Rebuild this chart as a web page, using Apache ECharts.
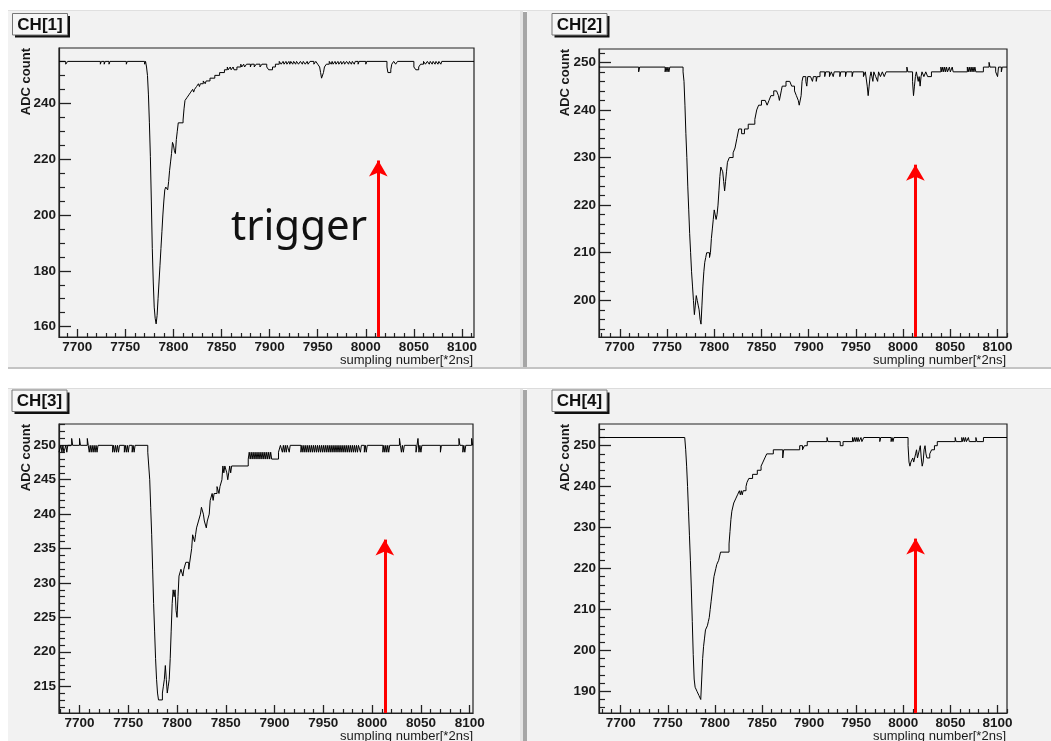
<!DOCTYPE html>
<html><head><meta charset="utf-8">
<script src="https://cdn.jsdelivr.net/npm/echarts@6/dist/echarts.min.js"></script>
<style>html,body{margin:0;padding:0;background:#fff}#c{width:1051px;height:741px}</style>
</head><body><div id="c"></div><script>
// ---------- data ----------
const channelNames = ['CH[1]', 'CH[2]', 'CH[3]', 'CH[4]'];
const xAxisTitle = 'sumpling number[*2ns]';
const yAxisTitle = 'ADC count';
const triggerLabel = 'trigger';
const xTickLabels = [7700, 7750, 7800, 7850, 7900, 7950, 8000, 8050, 8100];
const yTickLabels1 = [160, 180, 200, 220, 240];
const yTickLabels2 = [200, 210, 220, 230, 240, 250];
const yTickLabels3 = [215, 220, 225, 230, 235, 240, 245, 250];
const yTickLabels4 = [190, 200, 210, 220, 230, 240, 250];
const xRange1 = [7681, 8112.5], yRange1 = [156.3, 259.8];
const xRange2 = [7678, 8110], yRange2 = [192.3, 252.8];
const xRange3 = [7679, 8103.4], yRange3 = [211.1, 253.1];
const xRange4 = [7677, 8110], yRange4 = [184.7, 255.3];
const triggerX = 8013;
const arrowTop = [219.5, 228.5, 236.3, 227.3];

// [sampling number, ADC count] at each change of value
const ch1 = [
[7681,255],[7688,254],[7690,255],[7724,254],[7725,255],[7728,254],[7729,255],[7733,254],[7734,255],[7751,254],[7752,255],[7770,254],[7771,255],
[7772,253],[7773,250],[7774,243],[7775,233],[7776,221],[7777,205],[7778,188],[7779,176],[7780,167],[7781,163],[7782,161],[7783,164],[7784,170],
[7785,176],[7786,182],[7787,188],[7788,194],[7789,200],[7790,205],[7791,209],[7792,210],[7794,209],[7795,212],[7796,216],[7797,219],[7798,222],
[7799,226],[7800,225],[7801,223],[7802,222],[7803,227],[7804,230],[7805,233],[7810,234],[7811,238],[7812,241],[7814,242],[7816,243],[7818,244],
[7820,245],[7821,244],[7822,245],[7824,246],[7826,247],[7827,246],[7828,247],[7831,248],[7833,247],[7834,248],[7838,249],[7843,250],[7848,251],
[7853,252],[7856,253],[7857,252],[7859,253],[7860,252],[7862,253],[7863,252],[7866,253],[7870,254],[7871,253],[7873,254],[7874,253],[7876,254],
[7880,253],[7881,254],[7884,253],[7886,254],[7890,253],[7892,254],[7897,253],[7899,252],[7903,253],[7906,254],[7910,255],[7912,254],[7914,255],
[7915,254],[7917,255],[7918,254],[7920,255],[7921,254],[7922,255],[7924,254],[7925,255],[7927,254],[7928,255],[7930,254],[7932,255],[7934,254],
[7935,255],[7937,254],[7939,255],[7940,254],[7942,255],[7946,254],[7948,255],[7950,254],[7952,253],[7953,251],[7954,249],[7956,251],[7957,253],
[7959,254],[7962,255],[7964,254],[7965,255],[7966,254],[7968,255],[7969,254],[7971,255],[7972,254],[7974,255],[7975,254],[7977,255],[7978,254],
[7980,255],[7982,254],[7983,255],[7985,254],[7986,255],[7988,254],[7989,255],[7992,254],[7993,255],[8000,254],[8001,255],[8022,253],[8023,251],
[8026,252],[8027,254],[8029,255],[8031,254],[8033,255],[8050,253],[8052,252],[8055,253],[8057,254],[8060,255],[8062,254],[8064,255],[8066,254],
[8067,255],[8069,254],[8070,255],[8072,254],[8073,255],[8075,254],[8076,255],[8078,254],[8079,255],[8112.5,255]
];
const ch2 = [
[7678,249],[7720,248],[7721,249],[7748,248],[7749,249],[7750,248],[7751,249],[7752,248],[7753,249],
[7767,248],[7768,246],[7769,241],[7770,235],[7771,230],[7772,224],[7773,219],[7774,214],[7775,210],[7776,206],[7777,203],[7778,200],[7779,197],
[7780,199],[7781,201],[7782,200],[7783,199],[7784,198],[7785,196],[7786,195],[7787,199],[7788,203],[7789,206],[7790,208],[7791,209],[7792,210],
[7795,209],[7796,210],[7797,213],[7798,215],[7799,217],[7800,219],[7802,217],[7803,218],[7804,220],[7805,223],[7806,226],[7807,228],[7809,227],
[7810,225],[7811,223],[7812,225],[7813,227],[7814,229],[7816,230],[7820,231],[7822,232],[7824,234],[7826,236],[7829,235],[7832,236],[7836,237],
[7843,238],[7845,240],[7847,241],[7850,242],[7854,242],[7856,241],[7858,242],[7860,243],[7863,244],[7866,244],[7868,243],[7869,242],[7871,244],
[7872,245],[7876,246],[7880,246],[7882,245],[7885,244],[7887,243],[7889,242],[7890,241],[7892,243],[7893,246],[7894,247],[7897,246],[7898,245],
[7899,247],[7902,247],[7904,246],[7905,247],[7908,246],[7909,247],[7912,248],[7917,247],[7918,248],[7922,247],[7924,248],[7926,247],[7927,248],
[7933,247],[7934,248],[7939,247],[7940,248],[7946,247],[7947,248],[7958,247],[7960,248],[7962,245],[7963,243],[7964,245],[7965,247],[7966,248],
[7968,246],[7969,248],[7971,247],[7973,246],[7974,248],[7976,247],[7978,248],[7980,247],[7982,248],[8004,249],[8005,248],[8010,246],[8011,243],
[8012,245],[8013,247],[8014,248],[8016,246],[8017,247],[8018,245],[8019,247],[8020,248],[8022,247],[8024,248],[8026,247],[8030,248],[8040,249],
[8041,248],[8042,249],[8043,248],[8044,249],[8045,248],[8046,249],[8047,248],[8049,249],[8050,248],[8052,249],[8053,248],[8068,249],[8069,248],
[8070,249],[8071,248],[8072,249],[8073,248],[8074,249],[8075,248],[8076,249],[8077,248],[8085,249],[8091,250],[8092,249],[8098,248],[8100,247],
[8101,249],[8104,248],[8105,249],[8110,249]
];
const ch3 = [
[7679,249],[7681,250],[7682,249],[7683,250],[7684,249],[7686,250],[7687,249],[7688,250],[7692,251],[7693,250],[7700,251],[7701,250],[7708,251],
[7709,250],[7710,249],[7711,250],[7712,249],[7713,250],[7714,249],[7715,250],[7716,249],[7717,250],[7718,249],[7719,250],[7734,249],[7735,250],
[7736,249],[7737,250],[7738,249],[7739,250],[7740,249],[7741,250],[7746,249],[7747,250],[7748,249],[7749,250],[7750,249],[7751,250],[7754,249],
[7755,250],[7756,249],[7757,250],
[7770,249],[7771,247],[7772,245],[7773,241],[7774,237],[7775,232],[7776,227],[7777,223],[7778,219],[7779,216],[7780,214],[7781,213],[7785,214],
[7786,215],[7787,216],[7788,218],[7789,216],[7790,214],[7791,215],[7792,216],[7793,219],[7794,223],[7795,227],[7796,229],[7797,228],[7798,229],
[7799,226],[7800,225],[7801,228],[7802,231],[7804,232],[7806,231],[7807,232],[7809,233],[7812,232],[7813,233],[7815,235],[7816,237],[7818,236],
[7819,237],[7820,238],[7822,239],[7824,240],[7825,241],[7827,240],[7828,239],[7830,238],[7831,239],[7833,240],[7834,242],[7836,243],[7837,242],
[7838,243],[7841,244],[7843,243],[7844,244],[7846,245],[7847,247],[7848,246],[7849,247],[7851,246],[7852,245],[7853,246],[7854,247],[7855,246],
[7856,247],[7873,248],[7874,249],[7875,248],[7876,249],[7877,248],[7878,249],[7879,248],[7880,249],[7881,248],[7882,249],[7883,248],[7884,249],
[7885,248],[7886,249],[7887,248],[7888,249],[7889,248],[7890,249],[7891,248],[7892,249],[7893,248],[7894,249],[7895,248],[7896,249],[7897,248],
[7904,249],[7906,250],[7908,249],[7909,250],[7910,249],[7911,250],[7912,249],[7913,250],[7915,249],[7916,250],
[7927,249],[7928,250],[7929,249],[7930,250],[7931,249],[7932,250],[7933,249],[7934,250],[7935,249],[7936,250],[7937,249],[7938,250],[7939,249],
[7940,250],[7941,249],[7942,250],[7943,249],[7944,250],[7945,249],[7946,250],[7947,249],[7948,250],[7949,249],[7950,250],[7951,249],[7952,250],
[7953,249],[7954,250],[7955,249],[7956,250],[7957,249],[7958,250],[7959,249],[7960,250],[7961,249],[7962,250],[7963,249],[7964,250],[7965,249],
[7966,250],[7967,249],[7968,250],[7969,249],[7970,250],[7971,249],[7972,250],[7973,249],[7974,250],[7975,249],[7976,250],[7977,249],[7978,250],
[7979,249],[7980,250],[7981,249],[7982,250],[7983,249],[7984,250],[7985,249],[7986,250],[7988,249],[7989,250],[7992,249],[7993,250],[7994,249],
[7995,250],[8011,249],[8012,250],[8013,249],[8014,250],[8015,249],[8016,250],[8017,249],[8018,250],[8028,251],[8029,250],[8030,249],[8031,250],
[8032,249],[8033,250],[8045,249],[8046,250],[8047,251],[8048,249],[8049,250],[8050,249],[8051,250],[8070,249],[8071,250],[8089,251],[8090,250],
[8093,249],[8094,250],[8095,249],[8096,250],[8102,251],[8103,250],[8103.4,250]
];
const ch4 = [
[7677,252],[7768,252],[7769,249],[7770,245],[7771,240],[7772,234],[7773,228],[7774,222],[7775,215],[7776,207],[7777,199],[7778,193],[7779,191],
[7781,190],[7783,189],[7785,188],[7786,193],[7787,198],[7788,201],[7789,203],[7790,205],[7792,206],[7793,207],[7794,208],[7795,210],[7796,212],
[7797,214],[7798,216],[7799,218],[7801,220],[7802,221],[7804,222],[7806,224],[7815,226],[7816,229],[7817,232],[7818,234],[7820,236],[7822,237],
[7824,238],[7826,239],[7827,238],[7828,239],[7829,238],[7830,239],[7833,240],[7834,241],[7836,242],[7840,243],[7845,244],[7849,245],[7851,246],
[7853,247],[7855,248],[7862,249],[7872,247],[7873,249],[7890,250],[7893,249],[7895,250],[7898,251],[7919,252],[7920,251],[7933,250],[7936,251],
[7946,252],[7947,251],[7948,252],[7949,251],[7950,252],[7951,251],[7952,252],[7953,251],[7955,252],[7956,251],[7958,252],[7975,251],[7976,252],
[7987,251],[7988,252],[7989,251],[7990,252],[8005,250],[8006,246],[8007,245],[8008,246],[8010,247],[8011,246],[8013,248],[8014,249],[8015,247],
[8017,249],[8018,250],[8019,247],[8020,245],[8021,246],[8022,249],[8023,250],[8024,248],[8025,247],[8027,247],[8028,248],[8030,249],[8033,250],
[8036,251],[8055,252],[8056,251],[8062,252],[8063,251],[8064,252],[8065,251],[8066,252],[8067,251],[8069,252],[8070,251],[8077,252],[8078,251],
[8085,252],[8110,252]
];

// ---------- layout / style ----------
const FONT = '"Liberation Sans", Arial, Helvetica, sans-serif';
const panels = [
  {data: ch1, xRange: xRange1, yRange: yRange1, yLabels: yTickLabels1, yMinor: 5},
  {data: ch2, xRange: xRange2, yRange: yRange2, yLabels: yTickLabels2, yMinor: 2},
  {data: ch3, xRange: xRange3, yRange: yRange3, yLabels: yTickLabels3, yMinor: 1},
  {data: ch4, xRange: xRange4, yRange: yRange4, yLabels: yTickLabels4, yMinor: 2}
];
const frames = [
  {left: 59, top: 48, width: 415, height: 289},
  {left: 599, top: 49, width: 408, height: 288},
  {left: 59, top: 424, width: 414, height: 289},
  {left: 599, top: 424, width: 408, height: 289}
];
const titleBoxes = [[12.5, 13.5], [552, 13.5], [12, 390], [552, 390]];
const yTitlePos = [[26, 48], [565, 49], [26, 424], [565, 424]];
const xTitlePos = [[473, 360], [1006, 360], [473, 736], [1006, 736]];

function minorTicks(min, max, step, majors) {
  const out = [];
  for (let v = Math.ceil(min / step) * step; v <= max; v += step) {
    if (majors.indexOf(v) < 0) out.push(v);
  }
  return out;
}
const plain = v => String(Math.round(v));

const grids = [], xAxes = [], yAxes = [], series = [];
const labelStyle = {fontFamily: FONT, fontSize: 13.5, fontWeight: 'bold', color: '#1a1a1a', formatter: plain};
panels.forEach((p, i) => {
  grids.push(Object.assign({show: true, borderColor: '#222', borderWidth: 1.2, backgroundColor: 'transparent', containLabel: false, outerBoundsMode: 'none'}, frames[i]));
  xAxes.push({
    gridIndex: i, type: 'value', min: p.xRange[0], max: p.xRange[1], position: 'bottom',
    axisLine: {show: true, onZero: false, lineStyle: {color: '#222', width: 1.2}},
    axisTick: {show: true, inside: true, length: 8, lineStyle: {color: '#222', width: 1.3}, customValues: xTickLabels},
    axisLabel: Object.assign({show: true, margin: 3, customValues: xTickLabels}, labelStyle),
    splitLine: {show: false}
  });
  xAxes.push({
    gridIndex: i, type: 'value', min: p.xRange[0], max: p.xRange[1], position: 'bottom',
    axisLine: {show: false},
    axisTick: {show: true, inside: true, length: 4, lineStyle: {color: '#222', width: 1.2}, customValues: minorTicks(p.xRange[0], p.xRange[1], 10, xTickLabels)},
    axisLabel: {show: false}, splitLine: {show: false}
  });
  yAxes.push({
    gridIndex: i, type: 'value', min: p.yRange[0], max: p.yRange[1], position: 'left',
    axisLine: {show: true, onZero: false, lineStyle: {color: '#222', width: 1.2}},
    axisTick: {show: true, inside: true, length: 12, lineStyle: {color: '#222', width: 1.3}, customValues: p.yLabels},
    axisLabel: Object.assign({show: true, margin: 3, customValues: p.yLabels}, labelStyle),
    splitLine: {show: false}
  });
  yAxes.push({
    gridIndex: i, type: 'value', min: p.yRange[0], max: p.yRange[1], position: 'left',
    axisLine: {show: false},
    axisTick: {show: true, inside: true, length: 6, lineStyle: {color: '#222', width: 1.2}, customValues: minorTicks(p.yRange[0], p.yRange[1], p.yMinor, p.yLabels)},
    axisLabel: {show: false}, splitLine: {show: false}
  });
  series.push({
    type: 'line', name: channelNames[i], xAxisIndex: 2 * i, yAxisIndex: 2 * i,
    data: p.data, step: 'end', symbol: 'none', clip: true,
    lineStyle: {color: '#000', width: 1},
    markLine: {
      silent: true, symbol: ['none', 'arrow'], symbolSize: [14, 16],
      lineStyle: {color: '#ff0000', width: 3, type: 'solid'},
      label: {show: false},
      data: [[{coord: [triggerX, p.yRange[0]]}, {coord: [triggerX, arrowTop[i]]}]]
    }
  });
});

const graphic = [
  // panel backgrounds
  {type: 'rect', z: -10, shape: {x: 8, y: 10, width: 512, height: 358}, style: {fill: '#f2f2f2'}},
  {type: 'rect', z: -10, shape: {x: 527, y: 10, width: 524, height: 358}, style: {fill: '#f2f2f2'}},
  {type: 'rect', z: -10, shape: {x: 8, y: 388, width: 512, height: 353}, style: {fill: '#f2f2f2'}},
  {type: 'rect', z: -10, shape: {x: 527, y: 388, width: 524, height: 353}, style: {fill: '#f2f2f2'}},
  {type: 'rect', z: -9, shape: {x: 520, y: 10, width: 3, height: 358}, style: {fill: '#e4e4e4'}},
  {type: 'rect', z: -9, shape: {x: 523, y: 12, width: 4, height: 356}, style: {fill: '#a6a6a6'}},
  {type: 'rect', z: -9, shape: {x: 520, y: 388, width: 3, height: 353}, style: {fill: '#e4e4e4'}},
  {type: 'rect', z: -9, shape: {x: 523, y: 390, width: 4, height: 351}, style: {fill: '#a6a6a6'}},
  {type: 'rect', z: -9, shape: {x: 8, y: 10, width: 1043, height: 1}, style: {fill: '#e0e0e0'}},
  {type: 'rect', z: -9, shape: {x: 8, y: 367, width: 1043, height: 2}, style: {fill: '#c4c4c4'}},
  {type: 'rect', z: -9, shape: {x: 8, y: 388, width: 1043, height: 1}, style: {fill: '#dcdcdc'}},
  // trigger annotation
  {type: 'text', z: 50, x: 231, y: 228, style: {text: triggerLabel, fontFamily: '"Noto Sans", "DejaVu Sans", sans-serif', fontSize: 42, fontWeight: 'normal', fill: '#111', align: 'left', verticalAlign: 'middle'}}
];
titleBoxes.forEach((b, i) => {
  graphic.push({type: 'rect', z: 40, shape: {x: b[0] + 2.5, y: b[1] + 2.5, width: 55, height: 21.5}, style: {fill: '#111'}});
  graphic.push({type: 'rect', z: 41, shape: {x: b[0], y: b[1], width: 55, height: 21.5}, style: {fill: '#f6f6f6', stroke: '#777', lineWidth: 1}});
  graphic.push({type: 'text', z: 42, x: b[0] + 27.5, y: b[1] + 11.5, style: {text: channelNames[i], fontFamily: FONT, fontSize: 17, fontWeight: 'bold', fill: '#111', align: 'center', verticalAlign: 'middle'}});
});
yTitlePos.forEach(p => {
  graphic.push({type: 'text', z: 42, x: p[0], y: p[1], rotation: Math.PI / 2, style: {text: yAxisTitle, fontFamily: FONT, fontSize: 13, fontWeight: 'bold', fill: '#1a1a1a', align: 'right', verticalAlign: 'middle'}});
});
xTitlePos.forEach(p => {
  graphic.push({type: 'text', z: 42, x: p[0], y: p[1], style: {text: xAxisTitle, fontFamily: FONT, fontSize: 13, fontWeight: 'normal', fill: '#1a1a1a', align: 'right', verticalAlign: 'middle'}});
});

const chart = echarts.init(document.getElementById('c'), null, {renderer: 'canvas'});
chart.setOption({
  animation: false,
  backgroundColor: '#ffffff',
  grid: grids, xAxis: xAxes, yAxis: yAxes, series: series,
  graphic: graphic
});
</script></body></html>
